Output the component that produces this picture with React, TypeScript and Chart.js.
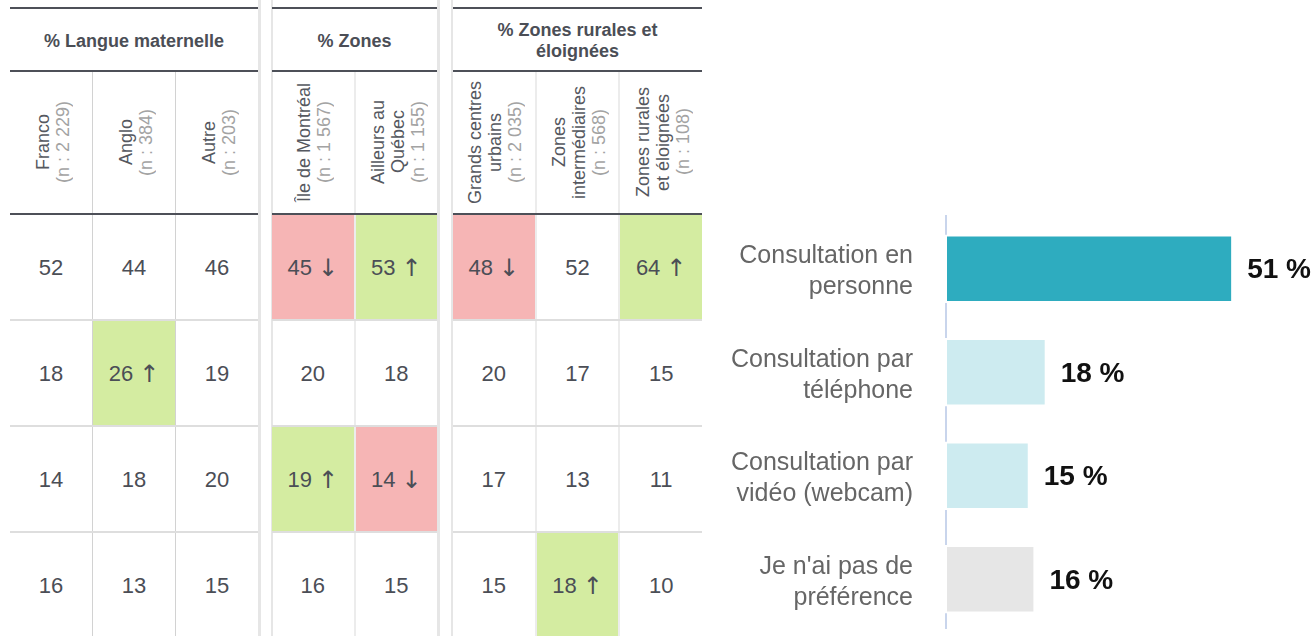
import React, { useEffect, useRef } from 'react';
import { Chart, registerables } from 'chart.js';

Chart.register(...registerables);

// ---------- Table data ----------
const groupTitles = ['% Langue maternelle', '% Zones', '% Zones rurales et éloignées'];
const groupColumnCounts = [3, 2, 3];
const columnNames = [
  'Franco',
  'Anglo',
  'Autre',
  'Île de Montréal',
  'Ailleurs au\nQuébec',
  'Grands centres\nurbains',
  'Zones\nintermédiaires',
  'Zones rurales\net éloignées',
];
const columnSampleSizes = ['2 229', '384', '203', '1 567', '1 155', '2 035', '568', '108'];
const tableValues = [
  [52, 44, 46, 45, 53, 48, 52, 64],
  [18, 26, 19, 20, 18, 20, 17, 15],
  [14, 18, 20, 19, 14, 17, 13, 11],
  [16, 13, 15, 16, 15, 15, 18, 10],
];
// 1 = significantly higher, -1 = significantly lower, 0 = none
const tableSignificance = [
  [0, 0, 0, -1, 1, -1, 0, 1],
  [0, 1, 0, 0, 0, 0, 0, 0],
  [0, 0, 0, 1, -1, 0, 0, 0],
  [0, 0, 0, 0, 0, 0, 1, 0],
];

// ---------- Bar chart data ----------
const barCategories = [
  ['Consultation en', 'personne'],
  ['Consultation par', 'téléphone'],
  ['Consultation par', 'vidéo (webcam)'],
  ["Je n'ai pas de", 'préférence'],
];
const barValues = [51, 18, 15, 16];
const barColors = ['#2eacbf', '#cdebf0', '#cdebf0', '#e6e6e6'];

const FONT = '"Liberation Sans", Arial, Helvetica, sans-serif';
const DARK = '#4b4e56';
const UP_COLOR = '#d4eca1';
const DOWN_COLOR = '#f6b5b5';

const groupLayout = [
  { left: 10, width: 248, colBorder: '1px solid #d2d2d2' },
  { left: 272, width: 165, colBorder: '2px solid #ececec' },
  { left: 453, width: 249, colBorder: '2px solid #ececec' },
];
const stripes = [
  { left: 258, width: 3 },
  { left: 271, width: 2 },
  { left: 437, width: 3 },
  { left: 451, width: 2 },
];

function Group({ gi }: { gi: number }) {
  const start = groupColumnCounts.slice(0, gi).reduce((a, b) => a + b, 0);
  const cols = Array.from({ length: groupColumnCounts[gi] }, (_, k) => start + k);
  const lay = groupLayout[gi];
  const thick = <div style={{ height: 2, background: '#4d5058' }} />;
  return (
    <div style={{ position: 'absolute', left: lay.left, top: 7, width: lay.width }}>
      {thick}
      <div
        style={{
          height: 61,
          display: 'flex',
          alignItems: 'center',
          justifyContent: 'center',
          textAlign: 'center',
          fontWeight: 'bold',
          fontSize: 18,
          lineHeight: '21px',
          color: DARK,
          padding: '3px 20px 0 20px',
          boxSizing: 'border-box',
        }}
      >
        {groupTitles[gi]}
      </div>
      {thick}
      <div style={{ display: 'flex', height: 141 }}>
        {cols.map((c, k) => (
          <div
            key={c}
            style={{
              flex: 1,
              display: 'flex',
              alignItems: 'center',
              justifyContent: 'center',
              borderLeft: k > 0 ? lay.colBorder : 'none',
            }}
          >
            <div
              style={{
                writingMode: 'vertical-rl',
                transform: 'rotate(180deg)',
                textAlign: 'center',
                whiteSpace: 'pre-line',
                fontSize: 18,
                lineHeight: '20px',
                color: '#555860',
                marginLeft: 3,
              }}
            >
              {columnNames[c]}
              {'\n'}
              <span style={{ color: '#a3a3a3' }}>(n : {columnSampleSizes[c]})</span>
            </div>
          </div>
        ))}
      </div>
      {thick}
      {tableValues.map((row, r) => (
        <div key={r} style={{ display: 'flex', height: 106, borderBottom: '2px solid #dedede', boxSizing: 'border-box' }}>
          {cols.map((c, k) => {
            const s = tableSignificance[r][c];
            return (
              <div
                key={c}
                style={{
                  flex: 1,
                  display: 'flex',
                  alignItems: 'center',
                  justifyContent: 'center',
                  borderLeft: k > 0 ? lay.colBorder : 'none',
                  background: s > 0 ? UP_COLOR : s < 0 ? DOWN_COLOR : 'transparent',
                  fontSize: 22,
                  color: DARK,
                  paddingTop: 2,
                  boxSizing: 'border-box',
                }}
              >
                {row[c]}
                {s !== 0 && (
                  <span style={{ marginLeft: 6, fontFamily: '"DejaVu Sans", sans-serif', fontSize: 24, lineHeight: '22px' }}>
                    {s > 0 ? '↑' : '↓'}
                  </span>
                )}
              </div>
            );
          })}
        </div>
      ))}
    </div>
  );
}

export default function App() {
  const canvasRef = useRef<HTMLCanvasElement | null>(null);

  useEffect(() => {
    if (!canvasRef.current) return;

    const axisLinePlugin = {
      id: 'axisLine',
      beforeDatasetsDraw(chart: any) {
        const { ctx, chartArea } = chart;
        const x0 = chart.scales.x.getPixelForValue(0);
        ctx.save();
        ctx.fillStyle = '#c9d5ec';
        ctx.fillRect(x0, chartArea.top - 2, 2, chartArea.bottom - chartArea.top);
        ctx.restore();
      },
    };

    const valueLabelPlugin = {
      id: 'valueLabels',
      afterDatasetsDraw(chart: any) {
        const { ctx } = chart;
        const meta = chart.getDatasetMeta(0);
        ctx.save();
        ctx.font = `bold 28px ${FONT}`;
        ctx.fillStyle = '#111111';
        ctx.textAlign = 'left';
        ctx.textBaseline = 'middle';
        meta.data.forEach((el: any, i: number) => {
          ctx.fillText(`${barValues[i]} %`, el.x + 14, el.y + 2);
        });
        ctx.restore();
      },
    };

    const chart = new Chart(canvasRef.current, {
      type: 'bar',
      data: {
        labels: barCategories as any,
        datasets: [
          {
            data: barValues,
            backgroundColor: barColors,
            borderColor: '#ffffff',
            borderWidth: 2,
            borderSkipped: false,
            categoryPercentage: 0.66,
            barPercentage: 1,
          },
        ],
      },
      options: {
        indexAxis: 'y',
        responsive: true,
        maintainAspectRatio: false,
        animation: false,
        layout: { padding: { top: 217, bottom: 5, left: 0, right: 32 } },
        plugins: { legend: { display: false }, tooltip: { enabled: false } },
        scales: {
          x: { display: false, min: 0, max: 60 },
          y: {
            grid: { display: false, drawTicks: false },
            border: { display: false },
            ticks: {
              padding: 32,
              labelOffset: 3,
              color: '#666666',
              font: { family: FONT, size: 25, lineHeight: 1.24 },
            },
            afterFit: (scale: any) => {
              scale.width = 235;
              scale.paddingTop = 0;
              scale.paddingBottom = 0;
            },
          },
        },
      },
      plugins: [axisLinePlugin, valueLabelPlugin],
    } as any);

    return () => chart.destroy();
  }, []);

  return (
    <div
      style={{
        position: 'absolute',
        left: 0,
        top: 0,
        width: 1316,
        height: 636,
        overflow: 'hidden',
        background: '#ffffff',
        fontFamily: FONT,
      }}
    >
      {stripes.map((s, i) => (
        <div
          key={i}
          style={{ position: 'absolute', left: s.left, top: 0, width: s.width, height: 636, background: '#e6e6e6' }}
        />
      ))}
      {groupTitles.map((_, gi) => (
        <Group key={gi} gi={gi} />
      ))}
      <div style={{ position: 'absolute', left: 710, top: 0, width: 606, height: 636 }}>
        <canvas ref={canvasRef} />
      </div>
    </div>
  );
}
